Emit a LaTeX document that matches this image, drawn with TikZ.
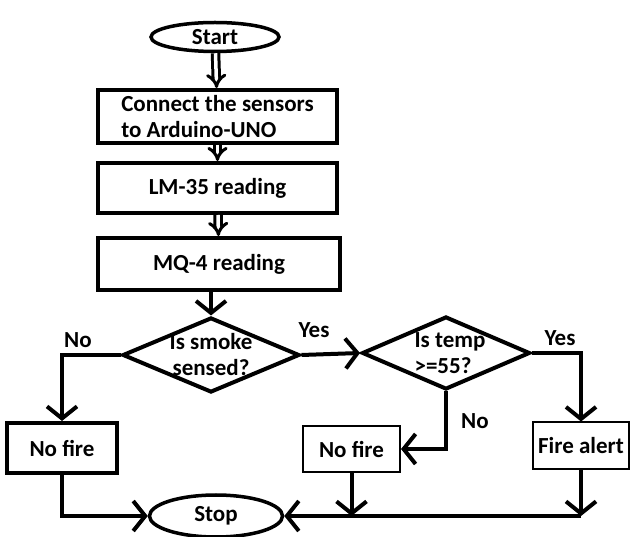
\documentclass[tikz,border=0pt]{standalone}
\usepackage{fontspec}
\setmainfont{Carlito}
\usepackage{tikz}
\usetikzlibrary{arrows.meta,positioning}
\usetikzlibrary{shapes.geometric}
\tikzset{every node/.style={font=\bfseries\fontsize{23}{26}\selectfont}}
\tikzset{blk/.style={rectangle, draw, line width=4pt, inner sep=0pt}}
\tikzset{tblk/.style={rectangle, draw, line width=2pt, inner sep=0pt}}
\tikzset{term/.style={ellipse, draw, line width=3.5pt, inner sep=0pt}}
\tikzset{dec/.style={diamond, draw, line width=4pt, inner sep=0pt}}
\tikzset{ln/.style={draw, line width=4pt,
  -{Straight Barb[length=12pt,width=30pt,line width=4pt]}}}
\tikzset{dbl/.style={draw, double, double distance=3.5pt, line width=3pt,
  -{Implies[length=8pt]}}}

\begin{document}
\begin{tikzpicture}[x=1pt,y=-1pt]
        \useasboundingbox (0,0) rectangle (630,537);
        %% top chain
        \node (start) at (215,37) [term, minimum width=128, minimum height=29] {Start};
        \node (conn) at (217.5,116.5) [blk, minimum width=239, minimum height=53,
            align=left] {Connect the sensors\\to Arduino-UNO};
        \node (lm) at (217.5,188) [blk, minimum width=239, minimum height=50] {LM-35 reading};
        \node (mq) at (219,264) [blk, minimum width=242, minimum height=52] {MQ-4 reading};
        \draw [dbl] (start) to (conn);
        \draw [dbl] (conn) to (lm);
        \draw [dbl] (lm) to (mq);
        %% decisions
        \node (smoke) at (211,355) [dec, minimum width=177, minimum height=75,
            label={[align=center]center:Is smoke\\sensed?}] {};
        \node (temp) at (446,353) [dec, minimum width=168, minimum height=73,
            label={[align=left, xshift=4pt]center:Is temp\\>=55?}] {};
        \draw [ln] (smoke.north |- mq.south) to (smoke.north);
        \draw [ln] (smoke.east) to (temp.west);
        \node (y1) at (314,330) {Yes};
        \node (n1) at (78,340) {No};
        \node (y2) at (560,338) {Yes};
        \node (n2) at (475,421) {No};
        %% outcomes
        \node (nf1) at (62,448) [blk, minimum width=110, minimum height=50] {No fire};
        \node (nf2) at (351.5,449) [tblk, minimum width=97, minimum height=46] {No fire};
        \node (fa) at (581,446) [tblk, minimum width=96, minimum height=47] {Fire alert};
        \node (stop) at (216,516) [term, minimum width=133, minimum height=42] {Stop};
        \draw [ln] (smoke.west) -| (nf1.north);
        \draw [ln] (temp.east) -| (fa.north);
        \draw [ln] (temp.south) |- (nf2.east);
        %% to stop
        \coordinate (j1) at (nf2.south |- stop.east);
        \coordinate (j2) at (fa.south |- stop.east);
        \draw [ln] (nf1.south) |- (stop.west);
        \draw [ln] (nf2.south) to (j1);
        \draw [ln] (fa.south) to (j2);
        \draw [ln] (j2) to (stop.east);
\end{tikzpicture}
\end{document}
